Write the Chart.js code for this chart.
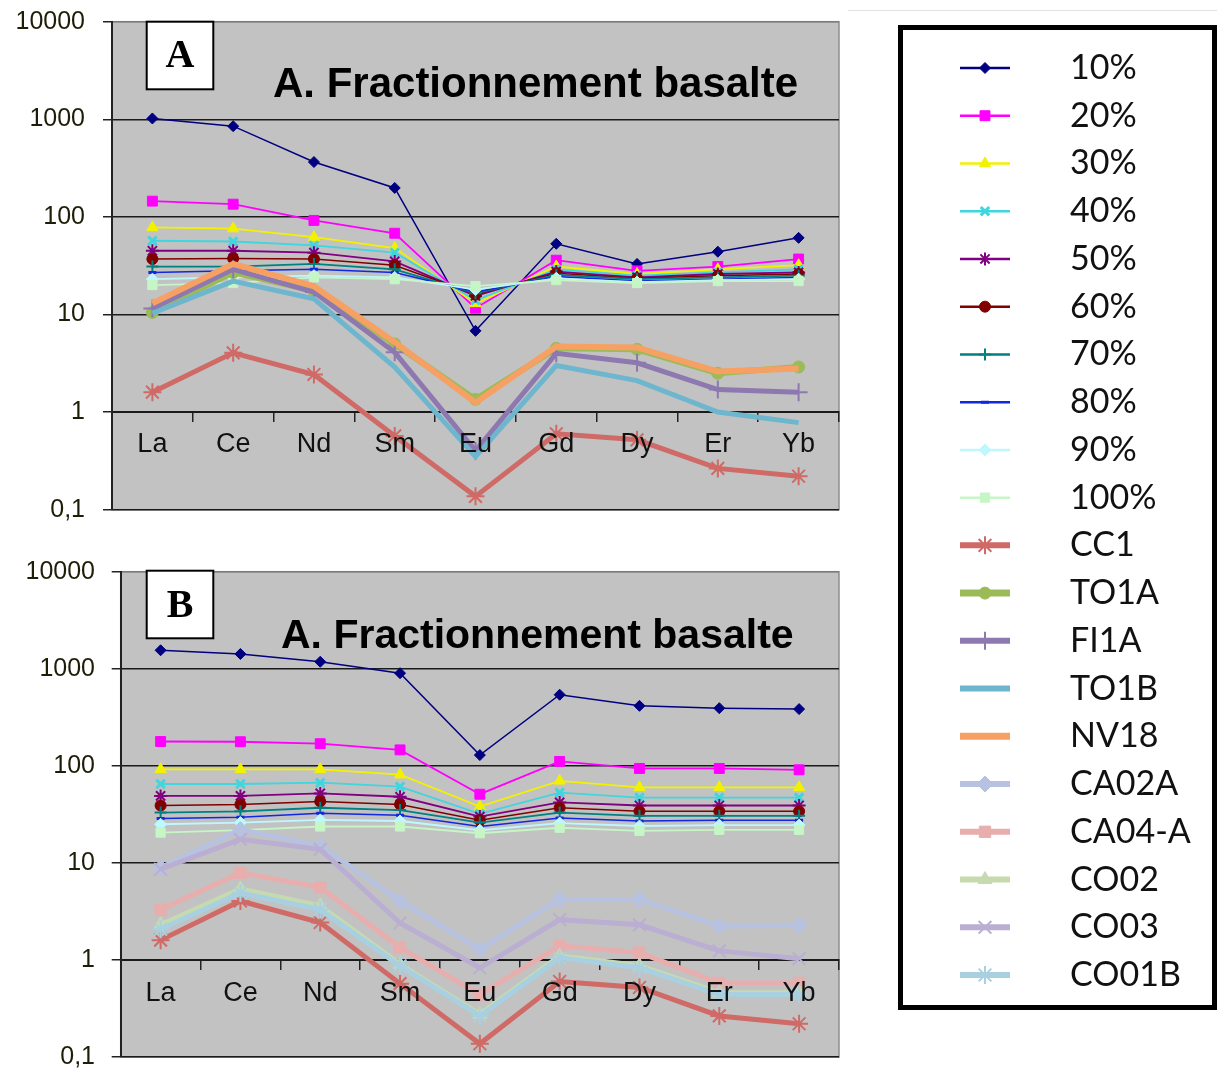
<!DOCTYPE html>
<html><head><meta charset="utf-8">
<script src="https://cdn.jsdelivr.net/npm/chart.js@4.4.1/dist/chart.umd.min.js"></script>
<style>
html,body{margin:0;padding:0;background:#fff;}
#wrap{position:relative;width:1217px;height:1074px;overflow:hidden;background:#fff;}
canvas{position:absolute;}
#cA{left:0;top:0;}
#cB{left:0;top:550px;}
#topLine{position:absolute;left:848px;top:10px;width:369px;height:1px;background:#e2e2e2;}
#legBox{position:absolute;left:898px;top:25px;width:319px;height:985px;border:5px solid #000;box-sizing:border-box;background:#fff;}
#cL{left:0;top:0;}
</style></head><body><div id="wrap">
<canvas id="cA" width="850" height="530"></canvas>
<canvas id="cB" width="850" height="524"></canvas>
<div id="topLine"></div>
<div id="legBox"><canvas id="cL" width="309" height="975"></canvas></div>
</div>
<script>
// ---------- categories & ticks ----------
const elements = ['La','Ce','Nd','Sm','Eu','Gd','Dy','Er','Yb'];
const yTickValues = [0.1, 1, 10, 100, 1000, 10000];
const yTickLabels = ['0,1', '1', '10', '100', '1000', '10000'];
const fractionLabels = ['10%','20%','30%','40%','50%','60%','70%','80%','90%','100%'];
const sampleLabelsA = ['CC1','TO1A','FI1A','TO1B','NV18'];
const sampleLabelsB = ['CA02A','CA04-A','CO02','CO03','CO01B'];

// ---------- panel A values ----------
const a10  = [1020, 850, 365, 198, 6.8, 53, 33, 44, 61];
const a20  = [145, 135, 92, 68, 11.6, 36, 28, 31, 37];
const a30  = [78, 76, 62, 48, 13, 31, 26, 29, 32];
const a40  = [57, 56, 51, 43, 14, 29, 25, 27, 29];
const a50  = [45, 45, 43, 35, 15.5, 27.5, 24, 26, 27];
const a60  = [37, 37.5, 37, 32, 16, 26.5, 23.5, 25, 26];
const a70  = [31, 31, 33, 29, 16.5, 25.5, 23, 24, 25];
const a80  = [27, 28, 29, 27, 17, 24.5, 22, 23, 24];
const a90  = [23, 24, 25, 24, 18, 23.5, 21.5, 22.5, 23];
const a100 = [20, 21, 24, 23, 19.5, 22.5, 21, 22, 22];
const cc1  = [1.6, 4.05, 2.43, 0.57, 0.137, 0.6, 0.52, 0.265, 0.22];
const to1a = [10.5, 27, 17.5, 5, 1.35, 4.5, 4.4, 2.5, 2.9];
const fi1a = [11.5, 29, 17, 4.1, 0.4, 4.0, 3.2, 1.7, 1.6];
const to1b = [10.3, 22, 14.5, 2.9, 0.35, 3.0, 2.1, 1.0, 0.78];
const nv18 = [13, 33, 19.5, 5.2, 1.25, 4.7, 4.6, 2.6, 2.8];

// ---------- panel B values ----------
const b10  = [1550, 1420, 1180, 900, 129, 540, 415, 393, 384];
const b20  = [178, 177, 169, 146, 51, 111, 94, 94, 91];
const b30  = [92, 92, 92, 81, 38, 70, 60, 60, 60];
const b40  = [65, 65, 67, 61, 32, 53, 47, 47, 47];
const b50  = [49, 49, 52, 48, 30, 42, 39, 39, 39];
const b60  = [39, 40, 43, 40, 27.5, 37, 34, 34, 34];
const b70  = [33, 34, 37, 35, 26, 33, 30.5, 30.5, 30.5];
const b80  = [28.6, 29.6, 32.5, 31, 23.7, 29, 27, 27.5, 27.5];
const b90  = [25, 26, 27.7, 27, 21.7, 25.7, 24, 24.5, 24.5];
const b100 = [20.5, 21.7, 23.7, 23.7, 20.2, 23, 21.4, 21.9, 21.9];
const ca02a = [8.9, 22, 15, 4.06, 1.29, 4.2, 4.2, 2.24, 2.28];
const ca04a = [3.3, 7.9, 5.6, 1.34, 0.44, 1.4, 1.19, 0.58, 0.58];
const co02  = [2.3, 5.4, 3.6, 0.9, 0.275, 1.1, 0.87, 0.46, 0.46];
const co03  = [8.6, 17.5, 13.8, 2.4, 0.83, 2.6, 2.3, 1.24, 1.03];
const co01b = [2.07, 4.9, 3.3, 0.87, 0.265, 1.05, 0.83, 0.44, 0.44];

// ---------- styles (not data) ----------
const styles = {
  '10%':  {color:'#000080', width:1.5, marker:'rectRot', r:5.5},
  '20%':  {color:'#FF00FF', width:1.8, marker:'rect', r:7},
  '30%':  {color:'#F2F200', width:1.8, marker:'triangle', r:6.5},
  '40%':  {color:'#3FD6DE', width:1.8, marker:'crossRot', r:6, pbw:3},
  '50%':  {color:'#800080', width:1.8, marker:'star', r:6.5, pbw:2},
  '60%':  {color:'#800000', width:1.5, marker:'circle', r:5.5},
  '70%':  {color:'#008080', width:1.8, marker:'cross', r:6, pbw:2},
  '80%':  {color:'#1028E0', width:1.5, marker:'line', r:4, pbw:3},
  '90%':  {color:'#BFF7FF', width:1.8, marker:'rectRot', r:6},
  '100%': {color:'#C6F5C6', width:1.8, marker:'rect', r:6.5},
  'CC1':  {color:'#CF6A67', width:5, marker:'star', r:9, pbw:2},
  'TO1A': {color:'#9BBB59', width:6, marker:'circle', r:6},
  'FI1A': {color:'#8E78B0', width:5, marker:'cross', r:9, pbw:2},
  'TO1B': {color:'#6DB6CE', width:5, marker:null, r:0},
  'NV18': {color:'#F6A063', width:6, marker:null, r:0},
  'CA02A':{color:'#B6C2E0', width:5, marker:'rectRot', r:8},
  'CA04-A':{color:'#E8AEAE', width:5, marker:'rect', r:8},
  'CO02': {color:'#C6DAB0', width:5, marker:'triangle', r:8},
  'CO03': {color:'#BAAED2', width:5, marker:'crossRot', r:9, pbw:2},
  'CO01B':{color:'#A9D0E0', width:5, marker:'star', r:9, pbw:2}
};

function makeDataset(name, values, i) {
  const s = styles[name];
  return {
    label: name, data: values,
    borderColor: s.color, backgroundColor: s.color,
    borderWidth: s.width, tension: 0,
    pointStyle: s.marker || 'circle',
    pointRadius: s.marker ? s.r : 0,
    pointHoverRadius: s.marker ? s.r : 0,
    pointBackgroundColor: s.color, pointBorderColor: s.color,
    pointBorderWidth: s.pbw || 1,
    order: -i
  };
}

const panelDeco = {
  id: 'panelDeco',
  beforeDraw(chart, args, o) {
    const {ctx, chartArea: a} = chart;
    ctx.save();
    ctx.fillStyle = '#C2C2C2';
    ctx.fillRect(a.left, a.top, a.right - a.left, a.bottom - a.top);
    ctx.strokeStyle = '#8e8e8e';
    ctx.lineWidth = 1.5;
    ctx.strokeRect(a.left, a.top, a.right - a.left, a.bottom - a.top);
    ctx.restore();
  },
  beforeDatasetsDraw(chart, args, o) {
    const ctx = chart.ctx;
    ctx.save();
    const [bx, by, bw, bh] = o.box;
    ctx.fillStyle = '#fff';
    ctx.fillRect(bx, by, bw, bh);
    ctx.strokeStyle = '#000';
    ctx.lineWidth = 2;
    ctx.strokeRect(bx, by, bw, bh);
    ctx.fillStyle = '#000';
    ctx.font = 'bold 40px "Liberation Serif", "Times New Roman", serif';
    ctx.textAlign = 'center';
    ctx.textBaseline = 'alphabetic';
    ctx.fillText(o.letter, bx + bw / 2, by + o.letterDy);
    ctx.font = 'bold ' + o.tsize + 'px "Liberation Sans", Arial, sans-serif';
    ctx.textAlign = 'left';
    ctx.fillStyle = '#000';
    ctx.fillText(o.title, o.tx, o.ty);
    ctx.restore();
  }
};

function panelOptions(cfg) {
  return {
    responsive: false, animation: false, devicePixelRatio: 1,
    layout: {padding: cfg.padding},
    plugins: {
      legend: {display: false}, tooltip: {enabled: false},
      panelDeco: cfg.deco
    },
    scales: {
      x: {
        type: 'category', labels: elements, offset: true,
        position: {y: 1},
        grid: {display: true, drawOnChartArea: false, drawTicks: true, tickLength: 9, offset: true, color: '#222', lineWidth: 1.5},
        border: {display: true, color: '#1a1a1a', width: 2},
        ticks: {z: 1, font: {family: '"Liberation Sans", Arial, sans-serif', size: 27}, color: '#111', padding: cfg.xPad, maxRotation: 0, autoSkip: false},
        afterFit: s => { s.paddingLeft = 0; s.paddingRight = 0; }
      },
      y: {
        type: 'logarithmic', min: 0.1, max: 10000, position: 'left',
        afterBuildTicks: s => { s.ticks = yTickValues.map(v => ({value: v})); },
        afterFit: s => { s.width = cfg.yWidth; s.paddingTop = 0; s.paddingBottom = 0; },
        grid: {
          color: c => (c.tick && c.tick.value === 10000) ? '#7c7c7c' : '#1a1a1a',
          tickColor: '#222', lineWidth: 1.5, tickLength: 9, drawTicks: true
        },
        border: {display: true, color: '#222', width: 2},
        ticks: {
          font: {family: '"Liberation Sans", Arial, sans-serif', size: 25}, color: '#1e1e08',
          padding: cfg.yPad, autoSkip: false,
          callback: (v, i) => yTickLabels[i]
        }
      }
    }
  };
}

// Panel A
const namesA = fractionLabels.concat(sampleLabelsA);
const valuesA = [a10, a20, a30, a40, a50, a60, a70, a80, a90, a100, cc1, to1a, fi1a, to1b, nv18];
new Chart(document.getElementById('cA'), {
  type: 'line',
  data: {labels: elements, datasets: namesA.map((n, i) => makeDataset(n, valuesA[i], i))},
  options: panelOptions({
    padding: {left: 0, top: 21.7, right: 4, bottom: 20.3},
    yWidth: 112, yPad: 18, xPad: 7.5,
    deco: {box: [146.7, 21.7, 66.6, 67.6], letter: 'A', letterDy: 45, title: 'A. Fractionnement basalte', tsize: 42, tx: 273, ty: 97}
  }),
  plugins: [panelDeco]
});

// Panel B
const namesB = fractionLabels.concat(['CC1']).concat(sampleLabelsB);
const valuesB = [b10, b20, b30, b40, b50, b60, b70, b80, b90, b100, cc1, ca02a, ca04a, co02, co03, co01b];
new Chart(document.getElementById('cB'), {
  type: 'line',
  data: {labels: elements, datasets: namesB.map((n, i) => makeDataset(n, valuesB[i], i))},
  options: panelOptions({
    padding: {left: 0, top: 21.7, right: 10, bottom: 17},
    yWidth: 120.7, yPad: 16.7, xPad: 8.8,
    deco: {box: [146.7, 20.7, 66.6, 67.6], letter: 'B', letterDy: 46, title: 'A. Fractionnement basalte', tsize: 41, tx: 281, ty: 98}
  }),
  plugins: [panelDeco]
});

// Legend (drawn as its own Chart.js chart)
const legendNames = fractionLabels.concat(sampleLabelsA).concat(sampleLabelsB);
new Chart(document.getElementById('cL'), {
  type: 'line',
  data: {
    datasets: legendNames.map((n, i) => {
      const s = styles[n];
      return {
        label: n,
        data: [{x: 0, y: n}, {x: 1, y: n}, {x: 2, y: n}],
        borderColor: s.color, backgroundColor: s.color,
        borderWidth: s.width < 3 ? 2.5 : Math.min(s.width + 1, 7),
        pointStyle: s.marker || 'circle',
        pointRadius: c => (c.dataIndex === 1 && s.marker) ? s.r : 0,
        pointBackgroundColor: s.color, pointBorderColor: s.color,
        pointBorderWidth: s.pbw || 1,
        tension: 0
      };
    })
  },
  options: {
    responsive: false, animation: false, devicePixelRatio: 1,
    layout: {padding: {left: 57, top: 14.1, right: 0, bottom: 6.1}},
    plugins: {legend: {display: false}, tooltip: {enabled: false}},
    scales: {
      x: {type: 'linear', min: 0, max: 2, display: false},
      y: {
        type: 'category', labels: legendNames, position: 'right', offset: true,
        grid: {display: false}, border: {display: false},
        ticks: {padding: 52, autoSkip: false, font: {family: 'Lato, "Open Sans", sans-serif', size: 34}, color: '#111'},
        afterFit: s => { s.width = 202; s.paddingTop = 0; s.paddingBottom = 0; }
      }
    }
  }
});
</script>
</body></html>
